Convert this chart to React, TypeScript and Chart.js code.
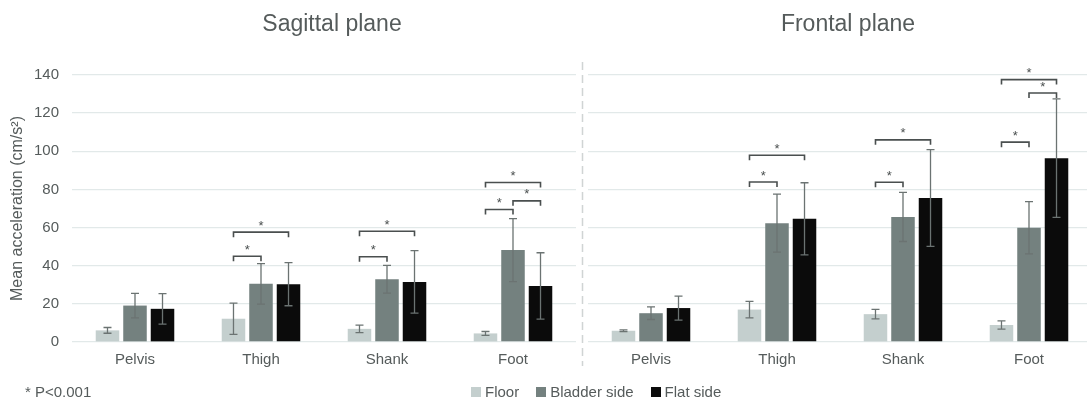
import React, { useEffect, useRef } from "react";
import { Chart, registerables } from "chart.js";

Chart.register(...registerables);

const categories = ["Pelvis", "Thigh", "Shank", "Foot"];
const seriesLabels = ["Floor", "Bladder side", "Flat side"];
const seriesColors = ["#c4cfce", "#74817f", "#0b0b0b"];

const sagFloor = [6.1, 12.2, 6.9, 4.5];
const sagFloorErr = [1.5, 8.2, 2.0, 1.0];
const sagBladder = [19.1, 30.5, 32.9, 48.2];
const sagBladderErr = [6.4, 10.6, 7.3, 16.5];
const sagFlat = [17.4, 30.3, 31.5, 29.4];
const sagFlatErr = [8.0, 11.3, 16.4, 17.4];

const froFloor = [5.9, 17.0, 14.6, 8.9];
const froFloorErr = [0.5, 4.3, 2.5, 2.2];
const froBladder = [15.1, 62.3, 65.6, 59.9];
const froBladderErr = [3.3, 15.2, 12.9, 13.7];
const froFlat = [17.8, 64.6, 75.5, 96.4];
const froFlatErr = [6.3, 18.9, 25.4, 31.1];

// [category index, from series, to series, y value]
const sagBrackets = [
  [1, 0, 1, 45], [1, 0, 2, 57.6],
  [2, 0, 1, 44.7], [2, 0, 2, 58.1],
  [3, 0, 1, 69.5], [3, 1, 2, 74], [3, 0, 2, 83.6],
];
const froBrackets = [
  [1, 0, 1, 83.9], [1, 0, 2, 97.9],
  [2, 0, 1, 83.8], [2, 0, 2, 106],
  [3, 0, 1, 104.8], [3, 1, 2, 130.6], [3, 0, 2, 137.6],
];

const yTicks = [0, 20, 40, 60, 80, 100, 120, 140];

const FONT = "'Liberation Sans', Arial, sans-serif";
const TEXT = "#555b5b";

function makeConfig(values: number[][], errs: number[][], brackets: number[][], left: boolean) {
  const overlay = {
    id: "overlay",
    afterDatasetsDraw(chart: any) {
      const ctx = chart.ctx;
      const y = chart.scales.y;
      ctx.save();
      // error bars
      ctx.strokeStyle = "#6b7372";
      ctx.lineWidth = 1.3;
      values.forEach((vals, s) => {
        const meta = chart.getDatasetMeta(s);
        vals.forEach((v, i) => {
          const x = meta.data[i].x;
          const yt = y.getPixelForValue(v + errs[s][i]);
          const yb = y.getPixelForValue(v - errs[s][i]);
          ctx.beginPath();
          ctx.moveTo(x, yt); ctx.lineTo(x, yb);
          ctx.moveTo(x - 4, yt); ctx.lineTo(x + 4, yt);
          ctx.moveTo(x - 4, yb); ctx.lineTo(x + 4, yb);
          ctx.stroke();
        });
      });
      // significance brackets
      ctx.strokeStyle = "#4a4f4f";
      ctx.fillStyle = "#4a4f4f";
      ctx.lineWidth = 1.6;
      ctx.font = `13px ${FONT}`;
      ctx.textAlign = "center";
      ctx.textBaseline = "middle";
      brackets.forEach(([c, a, b, v]) => {
        const xa = chart.getDatasetMeta(a).data[c].x;
        const xb = chart.getDatasetMeta(b).data[c].x;
        const py = y.getPixelForValue(v);
        ctx.beginPath();
        ctx.moveTo(xa, py + 5); ctx.lineTo(xa, py); ctx.lineTo(xb, py); ctx.lineTo(xb, py + 5);
        ctx.stroke();
        ctx.fillText("*", (xa + xb) / 2, py - 6);
      });
      if (left) {
        ctx.strokeStyle = "#d0d4d4";
        ctx.lineWidth = 1.5;
        ctx.setLineDash([8, 5]);
        ctx.beginPath();
        ctx.moveTo(582.5, 62);
        ctx.lineTo(582.5, 366);
        ctx.stroke();
      }
      ctx.restore();
    },
  };

  return {
    type: "bar" as const,
    data: {
      labels: categories,
      datasets: values.map((vals, s) => ({
        label: seriesLabels[s],
        data: vals,
        backgroundColor: seriesColors[s],
        borderWidth: 0,
        categoryPercentage: 0.655,
        barPercentage: 0.855,
      })),
    },
    options: {
      animation: false,
      responsive: false,
      maintainAspectRatio: false,
      layout: { padding: { top: 75, bottom: 29, left: left ? 0 : 6, right: left ? 8 : 2 } },
      plugins: { legend: { display: false }, tooltip: { enabled: false }, title: { display: false } },
      scales: {
        x: {
          grid: { display: false, drawTicks: false },
          border: { display: false },
          ticks: { color: TEXT, font: { family: FONT, size: 15 }, padding: 9 },
          afterFit(scale: any) { scale.height = 30; },
        },
        y: {
          min: 0,
          max: 140,
          afterBuildTicks(scale: any) { scale.ticks = yTicks.map((v) => ({ value: v })); },
          grid: { color: "#e2e9e9", lineWidth: 1.3, drawTicks: false },
          border: { display: false },
          ticks: { display: left, color: TEXT, font: { family: FONT, size: 15 }, padding: 13 },
          title: {
            display: left,
            text: "Mean acceleration (cm/s²)",
            color: TEXT,
            font: { family: FONT, size: 16 },
            padding: { top: 8, bottom: 0 },
          },
          afterFit(scale: any) { scale.width = left ? 72 : 0; },
        },
      },
    },
    plugins: [overlay],
  };
}

function ChartCanvas({ cfg, style, width, height }: any) {
  const ref = useRef<HTMLCanvasElement>(null);
  useEffect(() => {
    const chart = new Chart(ref.current as HTMLCanvasElement, cfg as any);
    return () => chart.destroy();
  }, []);
  return <canvas ref={ref} width={width} height={height} style={{ position: "absolute", ...style }} />;
}

export default function App() {
  useEffect(() => {
    document.body.style.margin = "0";
  }, []);
  const leftCfg = makeConfig([sagFloor, sagBladder, sagFlat], [sagFloorErr, sagBladderErr, sagFlatErr], sagBrackets, true);
  const rightCfg = makeConfig([froFloor, froBladder, froFlat], [froFloorErr, froBladderErr, froFlatErr], froBrackets, false);
  const legendItem = (i: number) => (
    <span key={i} style={{ display: "inline-flex", alignItems: "center", marginRight: 17 }}>
      <span style={{ width: 10, height: 10, background: seriesColors[i], display: "inline-block", marginRight: 4 }} />
      {seriesLabels[i]}
    </span>
  );
  return (
    <div style={{ position: "relative", width: 1087, height: 401, overflow: "hidden", background: "#fff", fontFamily: FONT, color: TEXT }}>
      <ChartCanvas cfg={leftCfg} width={584} height={401} style={{ left: 0, top: 0 }} />
      <ChartCanvas cfg={rightCfg} width={512} height={401} style={{ left: 582, top: 0 }} />
      <div style={{ position: "absolute", left: 182, width: 300, top: 10, textAlign: "center", fontSize: 23 }}>Sagittal plane</div>
      <div style={{ position: "absolute", left: 698, width: 300, top: 10, textAlign: "center", fontSize: 23 }}>Frontal plane</div>
      <div style={{ position: "absolute", left: 25, top: 383, fontSize: 15 }}>* P&lt;0.001</div>
      <div style={{ position: "absolute", left: 471, top: 383, fontSize: 15, whiteSpace: "nowrap", display: "flex" }}>
        {legendItem(0)}
        {legendItem(1)}
        {legendItem(2)}
      </div>
    </div>
  );
}
